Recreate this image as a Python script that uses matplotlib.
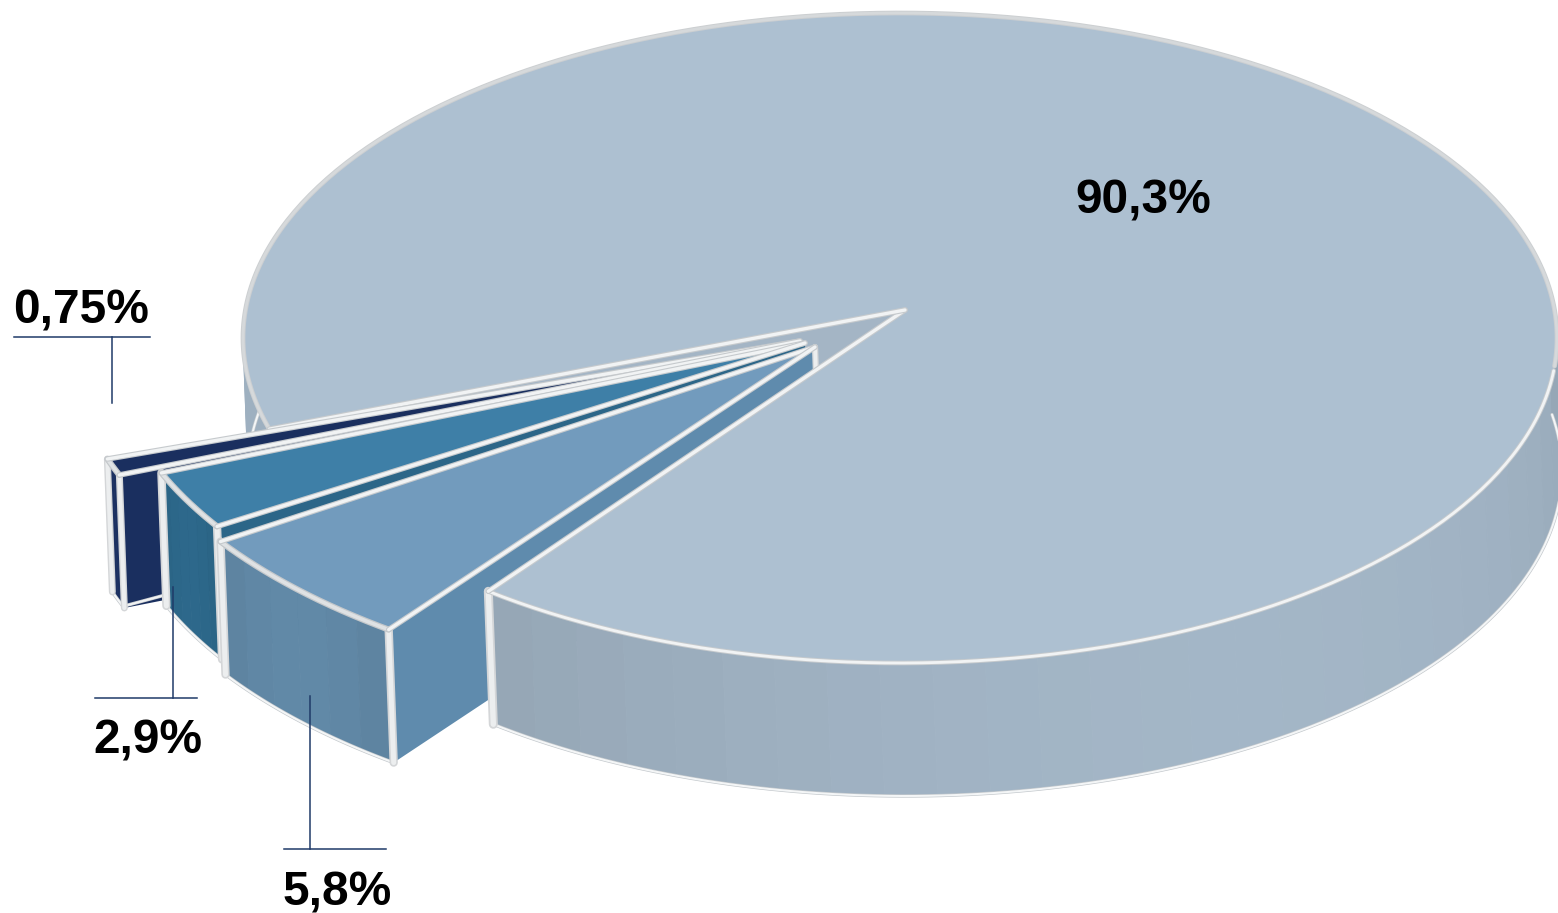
import numpy as np
import matplotlib
matplotlib.use("Agg")
import matplotlib.pyplot as plt

# shares, %
shares = [90.3, 0.75, 2.9, 5.8]
labels = ["90,3%", "0,75%", "2,9%", "5,8%"]

# pixel geometry of the tilted disc
RX, RY = 657, 325
BIG_CENTER = (900, 338)
BIG_APEX = (905, 310)
BIG_START = 128.8
SMALL_START = 161.0
SMALL_ROT = [0, -0.3, -0.8]
SMALL_TRIM = [0, 0.2, 0.55]
SMALL_APEX = [(800, 341), (805, 343), (815, 347)]
SMALL_SCALE = [1.115, 1.058, 1.085]
SHIFT = (5, 133)

TOP_COLORS = ["#adc0d1", "#1a2f5f", "#3e7fa7", "#729bbd"]
WALL_COLORS = ["#9caebe", "#1a2f5f", "#2c6688", "#5f86a3"]
INNER_COLORS = ["#a4b5c5", "#1a2f5f", "#2c6688", "#5f8bad"]


def arc(center, scale, a1, a2, n=120):
    t = np.radians(np.linspace(a1, a2, n))
    return center[0] + RX * scale * np.cos(t), center[1] + RY * scale * np.sin(t)


def edge(ax, x, y, z, width=4.0, grey="#c6cacd", white="#f1f3f4", ratio=0.6):
    ax.plot(x, y, color=grey, lw=width, solid_capstyle="round", solid_joinstyle="round", zorder=z)
    ax.plot(x, y, color=white, lw=width * ratio, solid_capstyle="round", zorder=z)


def shade(color, k):
    rgb = np.array(matplotlib.colors.to_rgb(color))
    return tuple(np.clip(rgb * k, 0, 1))


def outer_wall(ax, center, scale, a1, a2, color, z, facets=6, swing=0.05):
    steps = np.linspace(a1, a2, facets + 1)
    for i in range(facets):
        x, y = arc(center, scale, steps[i], steps[i + 1], 16)
        px = np.r_[x, x[::-1] + SHIFT[0]]
        py = np.r_[y, y[::-1] + SHIFT[1]]
        k = 1 + swing * np.sin(np.pi * (i + 0.5) / facets) - swing / 2
        ax.fill(px, py, color=shade(color, k), lw=0.6, zorder=z)
    x, y = arc(center, scale, a1, a2)
    edge(ax, x + SHIFT[0], y + SHIFT[1], z + 0.1, width=2.4, grey="#c3c8cc", white="#f4f6f7")


def inner_wall(ax, apex, corner, color, z):
    px = [apex[0], corner[0], corner[0] + SHIFT[0], apex[0] + SHIFT[0]]
    py = [apex[1], corner[1], corner[1] + SHIFT[1], apex[1] + SHIFT[1]]
    ax.fill(px, py, color=color, lw=0, zorder=z)


def corner_band(ax, point, z, width=6.0):
    px = [point[0], point[0] + SHIFT[0]]
    py = [point[1], point[1] + SHIFT[1]]
    ax.plot(px, py, color="#d4d6d8", lw=width, solid_capstyle="round", zorder=z)
    ax.plot(px, py, color="#eceeef", lw=width * 0.6, solid_capstyle="round", zorder=z)


def top_face(ax, apex, center, scale, a1, a2, color, z, split=False):
    x, y = arc(center, scale, a1, a2, 400)
    ax.fill(np.r_[apex[0], x], np.r_[apex[1], y], color=color, lw=0, zorder=z)
    if split:
        # rim is a grey band at the back, a thin white line at the front
        ang = np.linspace(a1, a2, 400)
        front = (np.sin(np.radians(ang)) > 0.1) & (ang > -90)
        bx = np.where(front, np.nan, x)
        by = np.where(front, np.nan, y)
        fx = np.where(front, x, np.nan)
        fy = np.where(front, y, np.nan)
        edge(ax, bx, by, z + 0.1, width=3.4, grey="#cccfd1", white="#d6d9db")
        edge(ax, fx, fy, z + 0.1, width=3.4, grey="#c6cacd", white="#f1f3f4")
    else:
        edge(ax, x, y, z + 0.1, width=4.4, grey="#c4c8cb", white="#dfe2e4")
    edge(ax, [x[0], apex[0]], [y[0], apex[1]], z + 0.2, width=4.0)
    edge(ax, [x[-1], apex[0]], [y[-1], apex[1]], z + 0.2, width=4.0)


fig = plt.figure(figsize=(15.58, 9.13), dpi=100)
ax = fig.add_axes([0, 0, 1, 1])
ax.set_xlim(0, 1558)
ax.set_ylim(913, 0)
ax.axis("off")

# slice angles follow from the shares
big_sweep = 360 * shares[0] / 100
big_end = BIG_START - big_sweep
small = []
a = SMALL_START
for s, rot, trim in zip(shares[1:], SMALL_ROT, SMALL_TRIM):
    sweep = 360 * s / 100
    small.append((a + rot - trim, a + rot - sweep + trim))
    a -= sweep

# back of the big slice
bx, by = arc(BIG_CENTER, 1, big_end, big_end, 1)
big_left = (bx[0], by[0])
outer_wall(ax, BIG_CENTER, 1, big_end + 360, big_end + 390, WALL_COLORS[0], 1, facets=2)
inner_wall(ax, BIG_APEX, big_left, INNER_COLORS[0], 1.5)

# side walls of the pulled-out slices, behind everything else
for i in range(3):
    ex, ey = arc(SMALL_APEX[i], SMALL_SCALE[i], small[i][1], small[i][1], 1)
    inner_wall(ax, SMALL_APEX[i], (ex[0], ey[0]), INNER_COLORS[i + 1], 2 + i * 0.1)
    if i == 2:
        corner_band(ax, SMALL_APEX[i], 2.5, width=4.5)
    if i == 0:
        nx = [ex[0] + SHIFT[0], ex[0] + SHIFT[0] + 52]
        ny = [ey[0] + SHIFT[1] - 2, ey[0] + SHIFT[1] - 16]
        edge(ax, nx, ny, 2.6, width=2.4)

# big slice: front wall and top
fx, fy = arc(BIG_CENTER, 1, BIG_START, BIG_START, 1)
outer_wall(ax, BIG_CENTER, 1, BIG_START, -10, WALL_COLORS[0], 3, facets=30, swing=0.09)
corner_band(ax, (fx[0], fy[0]), 3.5, width=6.5)
top_face(ax, BIG_APEX, BIG_CENTER, 1, BIG_START, big_end, TOP_COLORS[0], 4, split=True)

# small slices: outer wall and top
for i in range(3):
    a1, a2 = small[i]
    z = 5 + i
    outer_wall(ax, SMALL_APEX[i], SMALL_SCALE[i], a1, a2, WALL_COLORS[i + 1], z)
    for ang in (a1, a2):
        cx, cy = arc(SMALL_APEX[i], SMALL_SCALE[i], ang, ang, 1)
        corner_band(ax, (cx[0], cy[0]), z + 0.2, width=5.0 if i == 0 else 6.0)
    top_face(ax, SMALL_APEX[i], SMALL_APEX[i], SMALL_SCALE[i], a1, a2, TOP_COLORS[i + 1], z + 0.3)

# leader lines
LINE = "#1f3a68"
leaders = [
    ([14, 150], [337, 337]), ([112, 112], [337, 403]),
    ([95, 197], [698, 698]), ([173, 173], [587, 698]),
    ([284, 386], [849, 849]), ([310, 310], [696, 849]),
]
for lx, ly in leaders:
    ax.plot(lx, ly, color=LINE, lw=1.1, zorder=10)

label_pos = [(1143, 201), (81, 311), (148, 741), (337, 893)]
for txt, (tx, ty) in zip(labels, label_pos):
    ax.text(tx, ty, txt, ha="center", va="center", fontsize=34.5, fontweight="bold",
            family="Liberation Sans", color="black", zorder=11)

fig.savefig("out.png", dpi=100, facecolor="white")
